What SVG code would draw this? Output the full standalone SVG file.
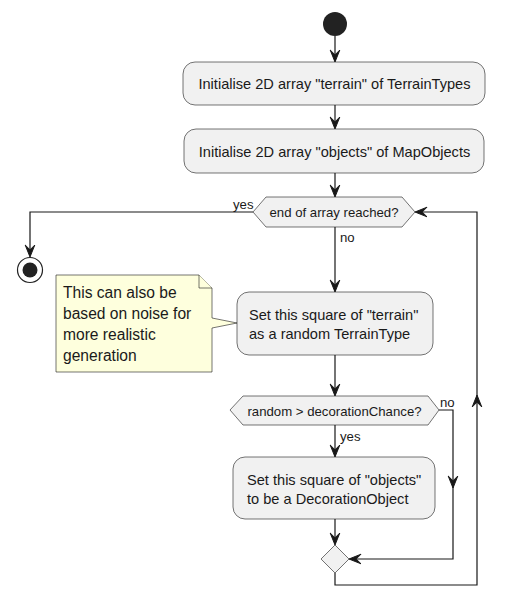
<svg xmlns="http://www.w3.org/2000/svg" width="507" height="613" viewBox="0 0 507 613">
<defs>
<style>
.box{fill:#F1F1F1;stroke:#181818;stroke-width:0.6}
.note{fill:#FEFFDD;stroke:#181818;stroke-width:0.6}
.ln{fill:none;stroke:#181818;stroke-width:1.2}
.ah{fill:#181818;stroke:#181818;stroke-width:1}
.t{font-family:"Liberation Sans",Arial,sans-serif;fill:#1a1a1a}
.tb{font-size:14.6px}
.tn{font-size:15.6px}
.th{font-size:13.2px}
.tl{font-size:13.2px}
</style>
</defs>
<rect width="507" height="613" fill="#FFFFFF"/>
<g id="start"><circle cx="335" cy="24" r="12" fill="#222222"/></g>
<g id="init-terrain"><rect class="box" x="183" y="62" width="302" height="43" rx="12"/><text class="t tb" x="334.5" y="89" text-anchor="middle">Initialise 2D array "terrain" of TerrainTypes</text></g>
<g id="init-objects"><rect class="box" x="184" y="129" width="300" height="44" rx="12"/><text class="t tb" x="334.5" y="156.5" text-anchor="middle">Initialise 2D array "objects" of MapObjects</text></g>
<g id="end-check"><polygon class="box" points="253,212 266,197 402,197 415,212 402,227 266,227"/><text class="t th" x="334" y="216.5" text-anchor="middle">end of array reached?</text></g>
<g id="end"><circle cx="30" cy="270" r="12.5" fill="#FFFFFF" stroke="#222222" stroke-width="1.2"/><circle cx="30" cy="270" r="7.5" fill="#222222"/></g>
<g id="note"><path class="note" d="M56,275 L199,275 L212,288 L212,318 L237,323 L212,328 L212,372 L56,372 Z"/><path class="note" d="M199,275 L199,288 L212,288"/>
<text class="t tn" x="63" y="298">This can also be</text><text class="t tn" x="63" y="319">based on noise for</text><text class="t tn" x="63" y="340">more realistic</text><text class="t tn" x="63" y="361">generation</text></g>
<g id="set-terrain"><rect class="box" x="237" y="292" width="196" height="63" rx="12"/><text class="t tb" x="249" y="320">Set this square of "terrain"</text><text class="t tb" x="249" y="339">as a random TerrainType</text></g>
<g id="deco-check"><polygon class="box" points="230,410 243,396 428,396 439,410 428,425 243,425"/><text class="t th" x="334.5" y="415.5" text-anchor="middle">random &gt; decorationChance?</text></g>
<g id="set-objects"><rect class="box" x="233" y="457" width="202" height="62" rx="12"/><text class="t tb" x="247" y="485">Set this square of "objects"</text><text class="t tb" x="247" y="504">to be a DecorationObject</text></g>
<g id="merge"><polygon class="box" points="335,545 349,559 335,573 321,559"/></g>
<g id="connectors">
<path class="ln" d="M335,36 L335,60"/><polygon class="ah" points="330.2,50 335,62 339.8,50 335,54.8"/>
<path class="ln" d="M335,105 L335,127"/><polygon class="ah" points="330.2,117 335,129 339.8,117 335,121.8"/>
<path class="ln" d="M335,173 L335,195"/><polygon class="ah" points="330.2,185 335,197 339.8,185 335,189.8"/>
<path class="ln" d="M253,212 L30,212 L30,255"/><polygon class="ah" points="25.2,245 30,257 34.8,245 30,249.8"/>
<text class="t tl" x="233" y="209">yes</text>
<path class="ln" d="M335,227 L335,290"/><polygon class="ah" points="330.2,280 335,292 339.8,280 335,284.8"/>
<text class="t tl" x="340" y="242">no</text>
<path class="ln" d="M335,355 L335,394"/><polygon class="ah" points="330.2,384 335,396 339.8,384 335,388.8"/>
<path class="ln" d="M335,425 L335,455"/><polygon class="ah" points="330.2,445 335,457 339.8,445 335,449.8"/>
<text class="t tl" x="340" y="441">yes</text>
<path class="ln" d="M439,410 L453,410 L453,559 L351,559"/><polygon class="ah" points="448.2,476 453,488 457.8,476 453,480.8"/><polygon class="ah" points="361,554.2 349,559 361,563.8 356.2,559"/>
<text class="t tl" x="440" y="407">no</text>
<path class="ln" d="M335,519 L335,543"/><polygon class="ah" points="330.2,533 335,545 339.8,533 335,537.8"/>
<path class="ln" d="M335,573 L335,585 L477,585 L477,212 L417,212"/><polygon class="ah" points="472.2,407 477,395 481.8,407 477,402.2"/><polygon class="ah" points="427,207.2 415,212 427,216.8 422.2,212"/>
</g>
</svg>
